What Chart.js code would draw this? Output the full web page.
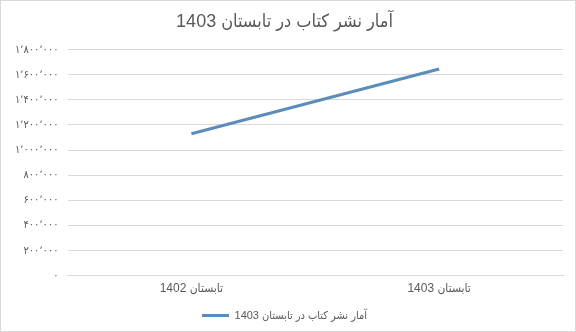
<!DOCTYPE html>
<html>
<head>
<meta charset="utf-8">
<script src="https://cdn.jsdelivr.net/npm/chart.js@4/dist/chart.umd.min.js"></script>
<style>
  html, body { margin: 0; padding: 0; background: #fff; }
  #wrap { position: relative; width: 574px; height: 330px; border: 1px solid #d9d9d9; }
</style>
</head>
<body>
<div id="wrap"><canvas id="chart"></canvas></div>
<script>
const title = 'آمار نشر کتاب در تابستان 1403';
const seriesName = 'آمار نشر کتاب در تابستان 1403';
const categories = ['تابستان 1402', 'تابستان 1403'];
const values = [1130000, 1645000];
const yTicks = [0, 200000, 400000, 600000, 800000, 1000000, 1200000, 1400000, 1600000, 1800000];

const faDigits = '۰۱۲۳۴۵۶۷۸۹';
function toFa(n) {
  const s = String(n).replace(/\B(?=(\d{3})+(?!\d))/g, '٬');
  return s.replace(/\d/g, d => faDigits[d]);
}

const font = "'Liberation Sans', 'DejaVu Sans Condensed', 'DejaVu Sans', sans-serif";
const grey = '#595959';

new Chart(document.getElementById('chart'), {
  type: 'line',
  data: {
    labels: categories,
    datasets: [{
      label: seriesName,
      data: values,
      borderColor: '#5b8cba',
      backgroundColor: '#5b8cba',
      borderWidth: 3,
      pointRadius: 0,
      tension: 0
    }]
  },
  options: {
    responsive: true,
    maintainAspectRatio: false,
    animation: false,
    layout: { padding: { left: 5, right: 12, top: 4, bottom: 0 } },
    plugins: {
      title: {
        display: true,
        text: title,
        color: grey,
        font: { family: font, size: 18, weight: 'normal' },
        padding: { top: 6, bottom: 17 }
      },
      legend: {
        position: 'bottom',
        labels: {
          color: grey,
          font: { family: font, size: 11 },
          boxWidth: 27,
          boxHeight: 0,
          padding: 8,
          generateLabels(chart) {
            const ds = chart.data.datasets[0];
            return [{
              text: ds.label,
              fillStyle: ds.borderColor,
              strokeStyle: ds.borderColor,
              lineWidth: 3,
              fontColor: grey,
              datasetIndex: 0
            }];
          }
        }
      },
      tooltip: { enabled: false }
    },
    scales: {
      x: {
        offset: true,
        grid: { display: false, drawTicks: false },
        border: { display: true, color: '#d9d9d9' },
        ticks: {
          color: grey,
          font: { family: font, size: 12 },
          padding: 6
        }
      },
      y: {
        min: 0,
        max: 1800000,
        afterBuildTicks(axis) { axis.ticks = yTicks.map(v => ({ value: v })); },
        grid: { color: '#d9d9d9', drawTicks: false },
        border: { display: false },
        ticks: {
          color: grey,
          font: { family: font, size: 11 },
          padding: 9,
          callback: v => toFa(v)
        }
      }
    }
  }
});
</script>
</body>
</html>
